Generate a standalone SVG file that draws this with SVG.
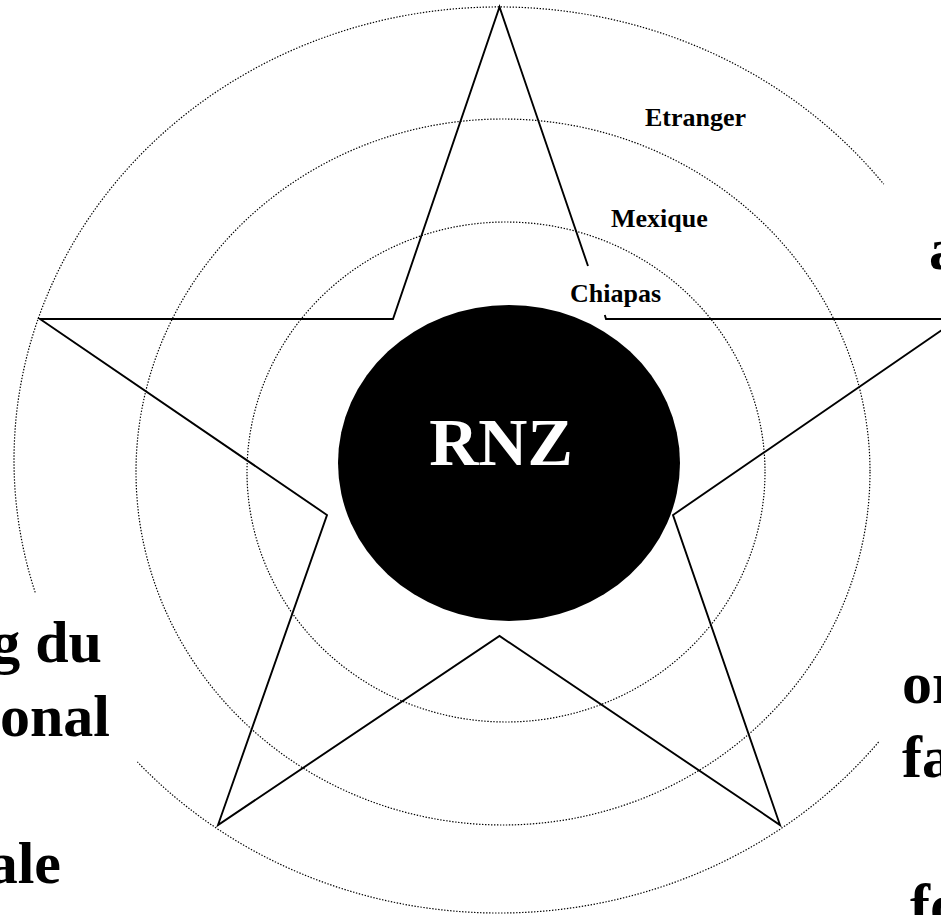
<svg xmlns="http://www.w3.org/2000/svg" width="941" height="915" viewBox="0 0 941 915">
<style>
.ring{fill:none;stroke:#000;stroke-width:1.2;stroke-dasharray:1.4 1.6}
.star{fill:none;stroke:#000;stroke-width:1.9;stroke-linejoin:miter}
.lbl{font-family:"Liberation Serif","Times New Roman",serif;font-weight:bold;font-size:26px;fill:#000}
.big{font-family:"Liberation Serif","Times New Roman",serif;font-weight:bold;font-size:60px;fill:#000}
</style>
<rect width="941" height="915" fill="#fff"/>
<g id="rings">
<path class="ring" d="M 35.2 592.4 A 485 453 0 0 1 883.8 184.2"/>
<path class="ring" d="M 878.6 742 A 485 453 0 0 1 137.4 761.9"/>
<ellipse class="ring" cx="503" cy="472" rx="367" ry="353"/>
<ellipse class="ring" cx="506" cy="472" rx="259" ry="250"/>
</g>
<g id="connectors">
<path class="star" d="M 588 266 L 499.5 7 L 393 319 L 40 319 L 327 515 L 218 825 L 499.5 636 L 780 825 L 673 515 L 958 319 L 606 319 L 604.8 315"/>
</g>
<g id="rnz">
<ellipse cx="509" cy="463" rx="171" ry="158" fill="#000"/>
<text x="501" y="465" text-anchor="middle" font-family="'Liberation Serif','Times New Roman',serif" font-weight="bold" font-size="68" fill="#fff">RNZ</text>
</g>
<g id="etranger"><text class="lbl" x="645" y="126">Etranger</text></g>
<g id="mexique"><text class="lbl" x="611" y="227">Mexique</text></g>
<g id="chiapas"><text class="lbl" x="570" y="302">Chiapas</text></g>
<g id="left-text">
<text class="big" x="102" y="662" text-anchor="end">g du</text>
<text class="big" x="110" y="736" text-anchor="end">onal</text>
<text class="big" x="61" y="883" text-anchor="end">ale</text>
</g>
<g id="right-text">
<text class="big" x="929" y="269">a</text>
<text class="big" x="902" y="703">or</text>
<text class="big" x="902" y="777">fa</text>
<text class="big" x="910" y="925">fo</text>
</g>
</svg>
